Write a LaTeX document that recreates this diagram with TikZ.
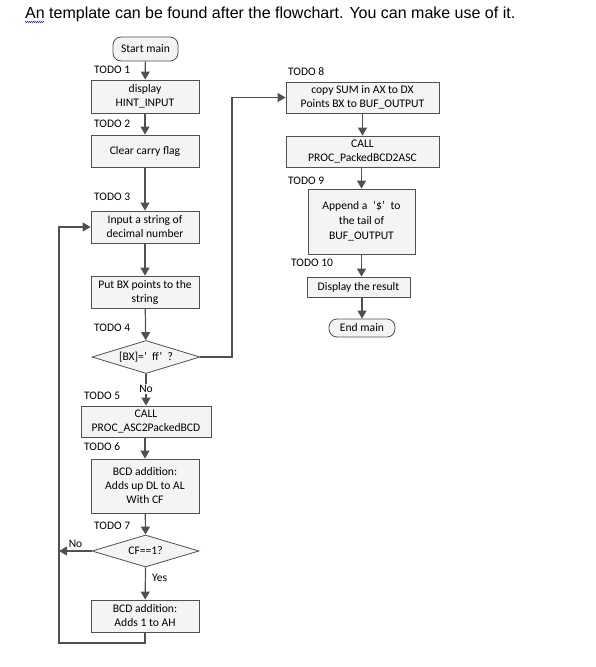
\documentclass[tikz,border=0pt]{standalone}
\usepackage{fontspec}
\setmainfont{Carlito}
\newfontfamily\titlefont{Liberation Sans}
\usetikzlibrary{shapes.geometric}
\usetikzlibrary{arrows.meta}
\usetikzlibrary{shadows}
\usetikzlibrary{decorations.pathmorphing}

\definecolor{boxline}{HTML}{505050}
\definecolor{boxfill}{HTML}{F4F4F4}

\tikzset{
	box/.style={draw=boxline, fill=boxfill, line width=0.8pt, inner sep=0pt, align=center,
		font=\fontsize{11.6}{14}\selectfont, drop shadow={shadow xshift=1pt, shadow yshift=-1pt, fill=black!25}},
	decision/.style={diamond, draw=boxline, fill=boxfill, line width=0.8pt, inner sep=0pt, aspect=3.3,
		font=\fontsize{11.6}{14}\selectfont},
	terminal/.style={rounded corners=8pt, draw=boxline, fill=boxfill, line width=0.8pt, inner sep=0pt,
		font=\fontsize{11.6}{14}\selectfont},
	todo/.style={anchor=west, inner sep=0pt, font=\fontsize{11.5}{14}\selectfont},
	answer/.style={inner sep=1pt, fill=white, font=\fontsize{11.5}{14}\selectfont},
	arr/.style={draw=boxline, line width=1.2pt, -{Triangle[length=8pt,width=9pt]}},
}

\begin{document}
\begin{tikzpicture}[x=1pt, y=-1pt]
		\useasboundingbox (0,0) rectangle (595,667);
		
		% Title
		\node[anchor=base west, inner sep=0pt, font=\titlefont\fontsize{16}{18}\selectfont] (title) at (25,18)
			{An template can be found after the flowchart. You can make use of it.};
		\draw[blue!80, line width=0.5pt, decorate, decoration={zigzag, segment length=2pt, amplitude=0.7pt}]
			(25,22) -- (44,22);
		
		% Left column
		\node[terminal, minimum width=65pt, minimum height=24pt] (start) at (145.5,49) {Start main};
		\node[box, minimum width=108pt, minimum height=33pt] (display) at (145,96.5) {display\\HINT\_INPUT};
		\node[box, minimum width=108pt, minimum height=32pt] (clear) at (145,151) {Clear carry flag};
		\node[box, minimum width=108pt, minimum height=32pt] (input) at (145,227) {Input a string of\\decimal number};
		\node[box, minimum width=108pt, minimum height=32pt] (putbx) at (145,292) {Put BX points to the\\string};
		\node[decision, minimum width=108pt, minimum height=33pt] (isff) at (146,357) {[BX]=’\hspace{0.45em}ff’\hspace{0.45em}?};
		\node[box, minimum width=130pt, minimum height=31pt] (ascbcd) at (146,421.5) {CALL\\PROC\_ASC2PackedBCD};
		\node[box, minimum width=108pt, minimum height=54pt] (adddl) at (145,486) {BCD addition:\\Adds up DL to AL\\With CF};
		\node[decision, minimum width=107pt, minimum height=32pt] (iscf) at (145.5,551) {CF==1?};
		\node[box, minimum width=108pt, minimum height=32pt] (addone) at (145,616) {BCD addition:\\Adds 1 to AH};
		
		% Right column
		\node[box, minimum width=153pt, minimum height=31pt] (copysum) at (362.5,97.5) {copy SUM in AX to DX\\Points BX to BUF\_OUTPUT};
		\node[box, minimum width=153pt, minimum height=31pt] (bcdasc) at (362.5,151.5) {CALL\\PROC\_PackedBCD2ASC};
		\node[box, minimum width=107pt, minimum height=65pt, font=\fontsize{11.6}{15}\selectfont] (append) at (361.5,221.5)
			{Append a\hspace{0.5em}‘\$’\hspace{0.5em}to\\the tail of\\BUF\_OUTPUT};
		\node[box, minimum width=103pt, minimum height=20pt] (show) at (358.5,287) {Display the result};
		\node[terminal, minimum width=66pt, minimum height=18pt] (endmain) at (362,328) {End main};
		
		% Labels
		\node[todo] (t1) at (94,70) {TODO 1};
		\node[todo] (t2) at (94,124) {TODO 2};
		\node[todo] (t3) at (94,197) {TODO 3};
		\node[todo] (t4) at (94,328) {TODO 4};
		\node[todo] (t5) at (84,396) {TODO 5};
		\node[todo] (t6) at (84,447) {TODO 6};
		\node[todo] (t7) at (94,526) {TODO 7};
		\node[todo] (t8) at (288,72) {TODO 8};
		\node[todo] (t9) at (288,181) {TODO 9};
		\node[todo] (t10) at (291,263) {TODO 10};
		
		% Loop corners
		\coordinate (loopL) at (59,643);
		\coordinate (loopR) at (232,357);
		
		% Connectors
		\draw[arr] (start) -- (display);
		\draw[arr] (display) -- (clear);
		\draw[arr] (clear) -- (input);
		\draw[arr] (input) -- (putbx);
		\draw[arr] (putbx) -- (isff);
		\draw[arr] (isff) -- (ascbcd);
		\draw[arr] (ascbcd.south -| adddl) -- (adddl);
		\draw[arr] (adddl) -- (iscf.north);
		\draw[arr] (iscf.south) -- (addone);
		\draw[arr] (addone.south) |- (loopL) |- (input.west);
		\draw[arr] (iscf.west) -- (iscf.west -| loopL);
		\draw[arr] (isff.east) -- (loopR) |- (copysum.west);
		\draw[arr] (copysum) -- (bcdasc);
		\draw[arr] (bcdasc.south -| append) -- (append);
		\draw[arr] (append) -- (append.south |- show.north);
		\draw[arr] (show.south -| endmain) -- (endmain);
		
		% Branch answers
		\node[answer] (no1) at (146,389) {No};
		\node[answer] (no2) at (75.5,544) {No};
		\node[answer] (yes) at (159.5,578) {Yes};
	\end{tikzpicture}
\end{document}
